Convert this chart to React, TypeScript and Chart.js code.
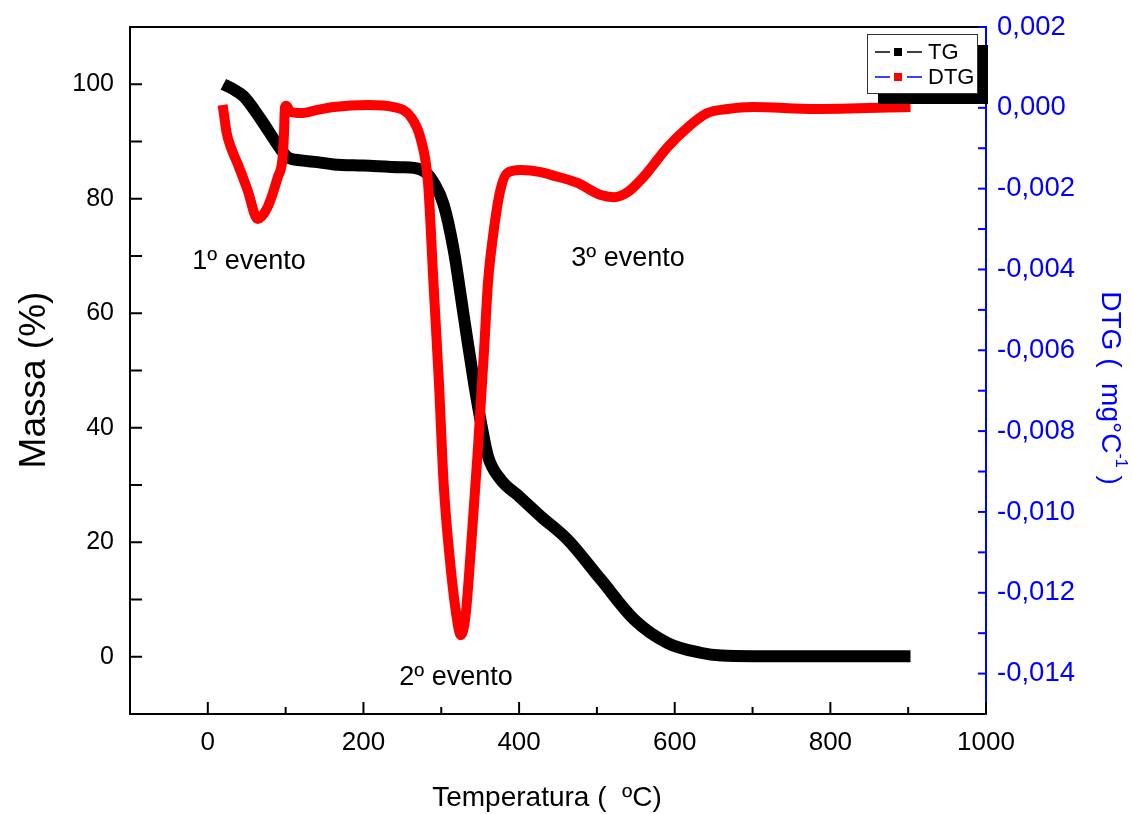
import React, { useEffect, useRef } from 'react';
import { Chart, registerables } from 'chart.js';

Chart.register(...registerables);

// ---------- data ----------
const TG_TEMP = [20, 33, 46, 68, 94, 103, 120, 141, 162, 200, 248, 265, 280, 290, 303, 316, 329, 342, 351, 360, 376, 400, 428, 462, 505, 548, 591, 633, 660, 700, 800, 903];
const TG_MASS = [100, 99.1, 97.9, 93.9, 88.6, 87.2, 86.7, 86.4, 86.0, 85.8, 85.5, 85.4, 84.6, 82.9, 79, 71, 59.4, 47.9, 40.9, 35, 31, 28, 24.5, 20.5, 13.5, 6.5, 2.4, 0.7, 0.2, 0.1, 0.1, 0.1];

const DTG_TEMP = [19, 21, 24, 30, 38, 51, 64, 77, 90, 96, 98, 99, 101, 106, 120, 141, 162, 206, 239, 261, 274, 283, 290, 297, 303, 312, 321, 325, 331, 338, 347, 355, 360, 367, 376, 385, 402, 428, 441, 475, 505, 522, 540, 560, 591, 617, 642, 668, 700, 780, 903];
const DTG_VALUE = [0.00007, -0.0002, -0.0006, -0.0010, -0.00137, -0.00203, -0.00275, -0.00245, -0.00171, -0.00125, -0.0006, 0.0, 0.00005, -0.0001, -0.00013, -0.00005, 0.00002, 0.00007, 0.00002, -0.00023, -0.0008, -0.00186, -0.00434, -0.0068, -0.00928, -0.01136, -0.01275, -0.01305, -0.0126, -0.01094, -0.00847, -0.006, -0.00434, -0.0031, -0.00203, -0.00161, -0.00154, -0.00159, -0.00166, -0.00186, -0.00216, -0.00221, -0.00208, -0.00171, -0.00097, -0.00048, -0.00013, -0.00003, 0.00002, -0.00003, 0.00002];

const X_TICKS = [0, 200, 400, 600, 800, 1000];
const X_MINOR_TICKS = [100, 300, 500, 700, 900];
const MASS_TICKS = [0, 20, 40, 60, 80, 100];
const MASS_MINOR_TICKS = [10, 30, 50, 70, 90];
const DTG_TICKS = [0.002, 0, -0.002, -0.004, -0.006, -0.008, -0.010, -0.012, -0.014];
const DTG_MINOR_TICKS = [0.001, -0.001, -0.003, -0.005, -0.007, -0.009, -0.011, -0.013];

const EVENT_LABELS = ['1º evento', '2º evento', '3º evento'];
const EVENT_TEMP = [53, 319, 540];
const EVENT_MASS = [69.1, -3.7, 69.6];

const LEGEND_LABELS = ['TG', 'DTG'];

const FONT = '"Liberation Sans", Arial, Helvetica, sans-serif';
const BLUE = '#0000ff';

const decorPlugin = {
  id: 'decor',
  afterDraw(chart: any) {
    const { ctx, chartArea: a, scales } = chart;
    const xs = scales.x, yl = scales.y, yr = scales.y1;
    const seg = (x1: number, y1: number, x2: number, y2: number) => {
      ctx.beginPath();
      ctx.moveTo(x1, y1);
      ctx.lineTo(x2, y2);
      ctx.stroke();
    };
    ctx.save();
    ctx.lineCap = 'butt';
    // top border
    ctx.strokeStyle = '#000';
    ctx.lineWidth = 2;
    seg(a.left - 1, a.top, a.right, a.top);
    // x ticks (inward)
    X_TICKS.forEach(v => { const p = xs.getPixelForValue(v); seg(p, a.bottom, p, a.bottom - 12); });
    X_MINOR_TICKS.forEach(v => { const p = xs.getPixelForValue(v); seg(p, a.bottom, p, a.bottom - 7); });
    // left ticks
    MASS_TICKS.concat(MASS_MINOR_TICKS).forEach(v => { const p = yl.getPixelForValue(v); seg(a.left, p, a.left + 12, p); });
    // right ticks
    ctx.strokeStyle = BLUE;
    DTG_TICKS.concat(DTG_MINOR_TICKS).forEach(v => { const p = yr.getPixelForValue(v); seg(a.right, p, a.right - 8, p); });

    // event annotations
    ctx.fillStyle = '#000';
    ctx.font = `27px ${FONT}`;
    ctx.textAlign = 'center';
    ctx.textBaseline = 'middle';
    EVENT_LABELS.forEach((t, i) => {
      ctx.fillText(t, xs.getPixelForValue(EVENT_TEMP[i]), yl.getPixelForValue(EVENT_MASS[i]));
    });

    // axis titles
    ctx.font = `28px ${FONT}`;
    ctx.fillText('Temperatura (  ºC)', 547, 798);
    ctx.save();
    ctx.translate(35, 380);
    ctx.rotate(-Math.PI / 2);
    ctx.font = `37px ${FONT}`;
    ctx.fillText('Massa (%)', 0, 0);
    ctx.restore();

    // right title with superscript
    ctx.save();
    ctx.translate(1110, 388);
    ctx.rotate(Math.PI / 2);
    ctx.fillStyle = BLUE;
    ctx.textAlign = 'left';
    ctx.textBaseline = 'middle';
    const mainFont = `28px ${FONT}`, supFont = `16px ${FONT}`;
    const t1 = 'DTG (  mg°C', t2 = '-1', t3 = ' )';
    ctx.font = mainFont; const w1 = ctx.measureText(t1).width; const w3 = ctx.measureText(t3).width;
    ctx.font = supFont; const w2 = ctx.measureText(t2).width;
    let sx = -(w1 + w2 + w3) / 2;
    ctx.font = mainFont; ctx.fillText(t1, sx, 0); sx += w1;
    ctx.font = supFont; ctx.fillText(t2, sx, -10); sx += w2;
    ctx.font = mainFont; ctx.fillText(t3, sx, 0);
    ctx.restore();

    // legend with shadow
    const lx = a.right - 119, ly = a.top + 7, lw = 110, lh = 59;
    ctx.fillStyle = '#000';
    ctx.fillRect(lx + 11, ly + 11, lw, lh);
    ctx.fillStyle = '#fff';
    ctx.fillRect(lx, ly, lw, lh);
    ctx.strokeStyle = '#333';
    ctx.lineWidth = 1;
    ctx.strokeRect(lx + 0.5, ly + 0.5, lw, lh);
    const rows = [
      { line: '#000', mark: '#000' },
      { line: BLUE, mark: '#ff0000' },
    ];
    ctx.font = `22px ${FONT}`;
    ctx.textAlign = 'left';
    ctx.textBaseline = 'middle';
    rows.forEach((r, i) => {
      const ry = ly + 18 + i * 25;
      ctx.strokeStyle = r.line;
      ctx.lineWidth = 1.5;
      seg(lx + 8, ry, lx + 23, ry);
      seg(lx + 40, ry, lx + 55, ry);
      ctx.fillStyle = r.mark;
      ctx.fillRect(lx + 27, ry - 4, 8, 8);
      ctx.fillStyle = '#000';
      ctx.fillText(LEGEND_LABELS[i], lx + 61, ry + 1);
    });
    ctx.restore();
  },
};

const noPad = (s: any) => { s.paddingTop = 0; s.paddingBottom = 0; };

export default function App() {
  const ref = useRef<HTMLCanvasElement | null>(null);
  useEffect(() => {
    if (!ref.current) return;
    const tg = TG_TEMP.map((t, i) => ({ x: t, y: TG_MASS[i] }));
    const dtg = DTG_TEMP.map((t, i) => ({ x: t, y: DTG_VALUE[i] }));
    const chart = new Chart(ref.current, {
      type: 'line',
      data: {
        datasets: [
          {
            label: 'DTG', data: dtg, yAxisID: 'y1', borderColor: '#ff0000', backgroundColor: '#ff0000',
            borderWidth: 10, pointRadius: 0, cubicInterpolationMode: 'monotone', order: 0,
            borderCapStyle: 'butt', borderJoinStyle: 'round', fill: false,
          },
          {
            label: 'TG', data: tg, yAxisID: 'y', borderColor: '#000', backgroundColor: '#000',
            borderWidth: 12, pointRadius: 0, cubicInterpolationMode: 'monotone', order: 1,
            borderCapStyle: 'butt', borderJoinStyle: 'round', fill: false,
          },
        ],
      },
      options: {
        animation: false,
        responsive: true,
        maintainAspectRatio: false,
        events: [],
        layout: { padding: { top: 27, left: 0, right: 0, bottom: 0 } },
        plugins: { legend: { display: false }, tooltip: { enabled: false } },
        scales: {
          x: {
            type: 'linear', position: 'bottom', min: -100, max: 1000,
            grid: { display: false, drawTicks: false },
            border: { display: true, color: '#000', width: 2 },
            ticks: { color: '#000', font: { family: FONT, size: 26 }, padding: 13, maxRotation: 0, callback: (v: any) => String(v) },
            afterBuildTicks: (s: any) => { s.ticks = X_TICKS.map(v => ({ value: v })); },
            afterFit: (s: any) => { s.height = 100; },
          },
          y: {
            type: 'linear', position: 'left', min: -10, max: 110,
            grid: { display: false, drawTicks: false },
            border: { display: true, color: '#000', width: 2 },
            ticks: { color: '#000', font: { family: FONT, size: 25 }, padding: 16, callback: (v: any) => String(v) },
            afterBuildTicks: (s: any) => { s.ticks = MASS_TICKS.map(v => ({ value: v })); },
            afterFit: (s: any) => { s.width = 130; noPad(s); },
          },
          y1: {
            type: 'linear', position: 'right', min: -0.015, max: 0.002,
            grid: { display: false, drawTicks: false },
            border: { display: true, color: BLUE, width: 2 },
            ticks: {
              color: BLUE, font: { family: FONT, size: 27.5 }, padding: 11,
              callback: (v: any) => Number(v).toFixed(3).replace('.', ','),
            },
            afterBuildTicks: (s: any) => { s.ticks = DTG_TICKS.map(v => ({ value: v })); },
            afterFit: (s: any) => { s.width = 146; noPad(s); },
          },
        },
      },
      plugins: [decorPlugin],
    } as any);
    return () => chart.destroy();
  }, []);
  return (
    <div style={{ position: 'absolute', left: 0, top: 0, width: 1132, height: 814, background: '#fff' }}>
      <canvas ref={ref} />
    </div>
  );
}
